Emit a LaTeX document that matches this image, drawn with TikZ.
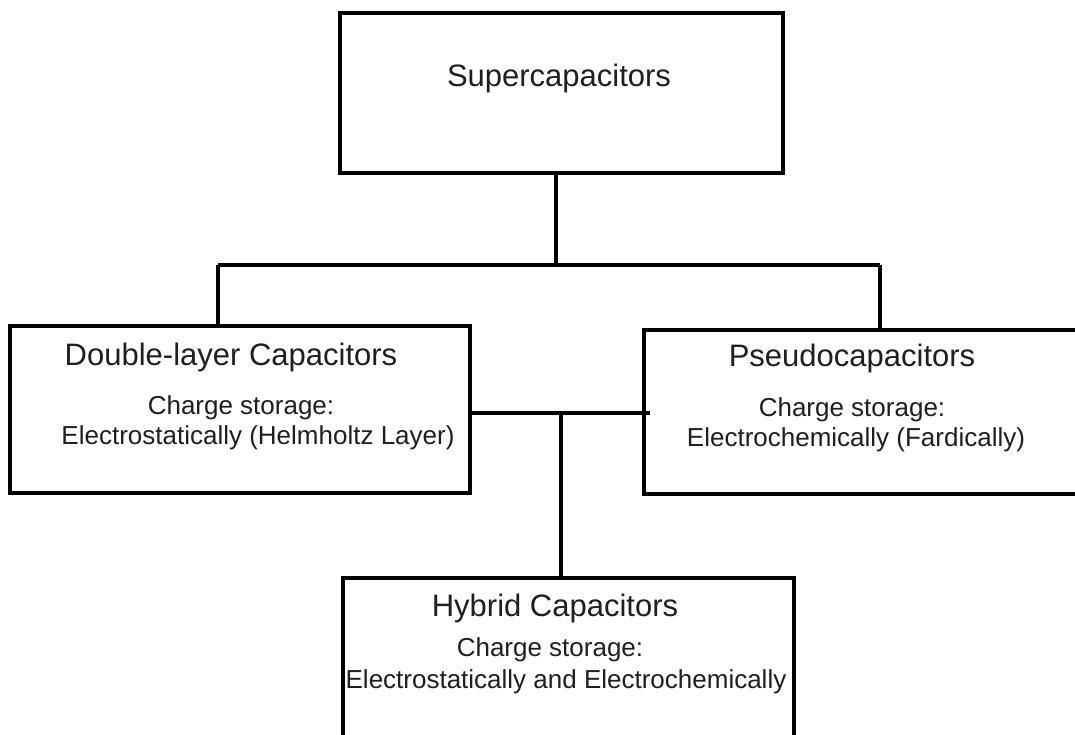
\documentclass[tikz,border=0pt]{standalone}
\usepackage{fontspec}
\setmainfont{Liberation Sans}
\begin{document}
\begin{tikzpicture}[x=1pt,y=-1pt,
  box/.style={draw=black,line width=3.5pt,inner sep=0pt},
  wire/.style={draw=black,line width=3.5pt},
  title/.style={text=black!88,font=\fontsize{31}{37}\selectfont,inner sep=0pt},
  sub/.style={text=black!88,font=\fontsize{26}{31}\selectfont,inner sep=0pt}]
\clip (0,0) rectangle (1075,735);
\fill[white] (0,0) rectangle (1075,735);
% boxes
\node[box,minimum width=443pt,minimum height=160pt] (super) at (561.5,93) {};
\node[box,minimum width=460pt,minimum height=167pt] (dl) at (240,409.5) {};
\node[box,minimum width=446pt,minimum height=164pt] (pseudo) at (867,412) {};
\node[box,minimum width=451pt,minimum height=190pt] (hybrid) at (568.5,673) {};
% texts
\node[title] (tsuper) at (559,78) {Supercapacitors};
\node[title] (tdl) at (231,357) {Double-layer Capacitors};
\node[sub] (cdl) at (241,408) {Charge storage:};
\node[sub] (edl) at (258,438) {Electrostatically (Helmholtz Layer)};
\node[title] (tps) at (852,358) {Pseudocapacitors};
\node[sub] (cps) at (852,410) {Charge storage:};
\node[sub] (eps) at (856,440) {Electrochemically (Fardically)};
\node[title] (thy) at (555,608) {Hybrid Capacitors};
\node[sub] (chy) at (550,650) {Charge storage:};
\node[sub] (ehy) at (566,682) {Electrostatically and Electrochemically};
% connectors
\coordinate (j) at (556,265);
\coordinate (jl) at (218,265);
\coordinate (jr) at (880,265);
\coordinate (m) at (561,413);
\coordinate (mr) at (650,413);
\draw[wire] (super.south -| j) -- (j);
\draw[wire] (jl) -- (jr);
\draw[wire] (jl) -- (dl.north -| jl);
\draw[wire] (jr) -- (pseudo.north -| jr);
\draw[wire] (dl.east |- m) -- (mr);
\draw[wire] (m) -- (hybrid.north -| m);
\end{tikzpicture}
\end{document}
